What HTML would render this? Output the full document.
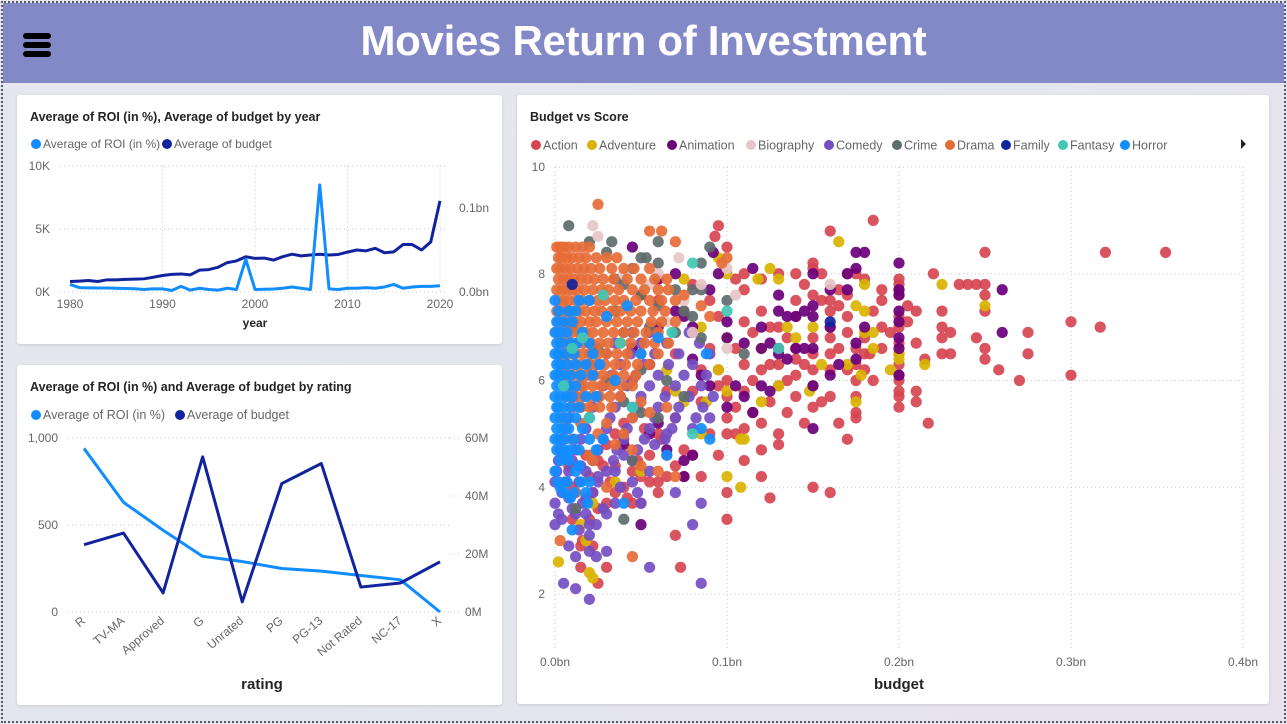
<!DOCTYPE html>
<html><head><meta charset="utf-8">
<style>
*{margin:0;padding:0;box-sizing:border-box}
body{width:1287px;height:724px;overflow:hidden;background:linear-gradient(135deg,#e6e6ee,#e4e6ee 50%,#e8e2ec);font-family:"Liberation Sans",sans-serif;position:relative}
#frame{position:absolute;left:1px;top:1px;width:1285px;height:722px;border:2px dotted #555a66}
#header{position:absolute;left:3px;top:3px;width:1281px;height:80px;background:#8289c6}
#title{position:absolute;left:0;top:17px;width:1287px;text-align:center;color:#fff;font-weight:bold;font-size:42px;letter-spacing:-0.3px}
.bar{position:absolute;left:23px;width:28px;height:6px;background:#000;border-radius:3px}
.panel{position:absolute;background:#fff;border-radius:3px;box-shadow:0 1px 3px rgba(0,0,0,.12)}
svg{position:absolute;left:0;top:0}
</style></head><body>
<div id="frame"></div>
<div id="header"></div>
<div id="title">Movies Return of Investment</div>
<div>
<div class="bar" style="top:33px"></div><div class="bar" style="top:42px"></div><div class="bar" style="top:51px"></div></div>
<div class="panel" style="left:17px;top:95px;width:485px;height:249px"></div>
<div class="panel" style="left:17px;top:365px;width:485px;height:340px"></div>
<div class="panel" style="left:517px;top:95px;width:752px;height:609px"></div>
<svg id="chart" width="1287" height="724" font-family="Liberation Sans, sans-serif"></svg>
<script>
// ---------- Year chart data ----------
const years=[1980,1981,1982,1983,1984,1985,1986,1987,1988,1989,1990,1991,1992,1993,1994,1995,1996,1997,1998,1999,2000,2001,2002,2003,2004,2005,2006,2007,2008,2009,2010,2011,2012,2013,2014,2015,2016,2017,2018,2019,2020];
const roiByYear=[600,350,330,320,320,300,280,260,200,260,250,120,450,150,300,200,150,300,200,2600,200,220,240,300,400,300,200,8500,250,200,300,300,350,300,400,600,300,400,450,450,500];
const budgetByYearM=[12.5,13,13.7,12.5,14.5,14.5,15,15.3,15.7,17.6,19.6,21,21.5,20.4,26,26.7,29.4,35,37,42,40,40.4,38,42,45,43,44,45,44,44.7,47.5,50,49,52,46.7,47.8,56.5,56.5,50,59.6,108.6];
const yearTicks=[1980,1990,2000,2010,2020];
const roiYearTicks=[0,5000,10000];
const roiYearTickLabels=["0K","5K","10K"];
const budYearTicks=[0,100];
const budYearTickLabels=["0.0bn","0.1bn"];
// ---------- Rating chart data ----------
const ratings=["R","TV-MA","Approved","G","Unrated","PG","PG-13","Not Rated","NC-17","X"];
const roiByRating=[940,630,470,320,290,250,235,210,185,0];
const budgetByRatingM=[23.2,27.2,6.6,53.5,3.5,44.3,51.2,8.6,10,17.3];
const roiRatingTicks=[0,500,1000];
const roiRatingTickLabels=["0","500","1,000"];
const budRatingTicks=[0,20,40,60];
const budRatingTickLabels=["0M","20M","40M","60M"];
// ---------- Scatter data (budget in M, score) ----------
const genres=["Action","Adventure","Animation","Biography","Comedy","Crime","Drama","Family","Fantasy","Horror"];
const genreColors=["#D64550","#D9B300","#6B007B","#E6C4C8","#744EC2","#5F6B6D","#E66C37","#12239E","#41C8B4","#118DFF"];
const scatterXTicks=[0,100,200,300,400];
const scatterXTickLabels=["0.0bn","0.1bn","0.2bn","0.3bn","0.4bn"];
const scatterYTicks=[2,4,6,8,10];
const actionPts=[[185,9.0],[160,8.8],[95,8.9],[93,8.7],[100,8.5],[250,8.4],[320,8.4],[355,8.4],[150,8.2],[150,8.1],[175,8.0],[200,7.9],[220,8.0],[235,7.8],[245,7.8],[250,7.8],[250,7.6],[240,7.8],[200,7.8],[180,7.9],[170,8.0],[140,8.0],[130,8.0],[120,7.9],[110,7.7],[110,8.0],[105,7.9],[155,7.5],[160,7.5],[165,7.7],[190,7.7],[200,7.7],[210,7.3],[225,7.3],[250,7.3],[205,7.4],[225,7.0],[230,6.9],[245,6.8],[225,6.8],[275,6.9],[300,7.1],[317,7.0],[210,6.7],[250,6.6],[275,6.5],[230,6.5],[225,6.5],[250,6.4],[258,6.2],[270,6.0],[300,6.1],[215,6.4],[200,6.7],[200,6.5],[200,6.3],[200,6.1],[200,6.0],[200,5.8],[200,5.7],[200,5.5],[200,7.0],[200,7.2],[195,6.9],[190,7.0],[180,6.8],[180,6.5],[180,6.2],[185,6.0],[175,6.6],[175,6.0],[175,5.7],[175,5.4],[175,5.3],[170,6.9],[170,6.2],[170,4.9],[165,6.6],[165,5.2],[160,7.0],[160,6.8],[160,6.5],[160,6.2],[160,5.7],[155,5.6],[150,6.8],[150,6.5],[150,6.2],[150,5.9],[150,5.5],[145,5.2],[140,6.6],[140,6.1],[140,5.7],[135,6.8],[135,5.4],[130,5.9],[130,5.0],[125,6.3],[125,5.6],[120,6.2],[120,5.2],[120,4.7],[115,6.9],[115,6.0],[115,5.4],[110,6.3],[110,5.8],[110,5.1],[105,6.6],[105,5.5],[100,6.0],[100,5.7],[100,5.3],[100,5.0],[105,5.0],[95,6.2],[95,5.9],[95,4.6],[90,6.6],[90,5.0],[85,5.6],[85,4.2],[80,5.8],[80,4.6],[75,4.7],[75,4.2],[70,4.4],[65,4.6],[60,3.9],[55,4.1],[50,4.2],[45,3.7],[50,3.7],[60,4.1],[100,3.9],[100,3.4],[120,4.2],[125,3.8],[110,4.5],[130,4.8],[150,4.0],[160,3.9],[210,5.8],[210,5.6],[217,5.2],[30,3.7],[35,3.9],[16,3.0],[15,2.9],[15,2.5],[30,2.5],[22,2.9],[25,2.2],[70,3.1],[73,2.5],[140,6.4],[145,6.3],[130,7.0],[120,7.3],[110,7.1],[150,7.6],[140,7.5],[160,7.3],[170,7.2],[185,7.3],[190,6.6],[175,6.3],[125,7.0],[130,6.3],[135,6.0],[140,7.2],[165,7.4],[183,6.5],[200,7.6],[190,7.5],[145,7.8],[155,8.0],[170,7.6],[205,7.1],[50,7.6],[60,7.5],[70,6.5],[80,6.9],[90,7.5],[75,7.3],[55,6.3],[45,6.0],[65,5.8],[85,6.2],[95,7.2],[80,7.8],[60,5.0],[40,5.2],[25,4.5],[35,4.4],[45,4.3],[30,4.8],[55,4.6],[40,4.0],[20,4.2],[65,4.2],[10,3.4],[20,3.4],[25,3.6],[10,4.0],[18,4.6],[28,4.4],[38,4.8],[48,4.5],[32,4.1],[42,3.8],[8,4.4],[22,3.9],[52,5.1],[62,4.9],[70,5.3],[35,5.0]];
const adventurePts=[[165,8.6],[100,8.0],[125,8.1],[130,7.9],[118,7.9],[75,7.9],[180,7.8],[225,7.8],[250,7.4],[180,7.3],[175,7.4],[180,6.9],[185,6.9],[185,6.6],[200,6.5],[200,6.4],[195,6.2],[215,6.3],[155,6.3],[170,6.3],[178,6.1],[140,6.8],[135,7.0],[148,5.8],[175,5.6],[120,5.6],[130,5.9],[100,5.8],[90,6.5],[95,6.2],[88,5.6],[85,5.0],[110,4.9],[108,4.9],[100,4.2],[108,4.0],[50,4.3],[35,4.1],[22,3.7],[15,3.3],[18,3.0],[20,2.4],[22,2.3],[2,2.6],[100,6.8],[95,8.3],[85,7.0],[70,5.8],[60,7.9],[120,6.6],[150,7.0],[65,6.2],[75,5.6]];
const animationPts=[[45,8.5],[92,8.4],[175,8.4],[180,8.4],[200,8.2],[170,8.0],[115,8.1],[95,8.0],[90,7.7],[70,8.0],[60,7.9],[150,8.0],[150,7.4],[160,7.7],[170,7.7],[175,8.1],[200,7.6],[200,7.7],[260,7.7],[130,7.6],[130,7.3],[135,7.2],[140,7.2],[145,7.3],[150,7.2],[140,6.6],[130,6.6],[120,6.6],[125,6.7],[120,7.0],[110,6.7],[100,7.1],[100,6.8],[80,7.0],[70,7.3],[60,7.0],[75,7.2],[80,6.4],[85,6.1],[90,5.9],[100,5.5],[105,5.9],[110,5.7],[115,5.4],[120,5.9],[125,5.8],[130,6.5],[135,6.4],[145,6.6],[150,6.6],[150,5.9],[150,5.1],[160,7.0],[160,6.1],[165,6.3],[175,6.7],[175,6.4],[180,7.0],[200,7.3],[200,7.1],[200,6.8],[200,6.6],[200,6.1],[260,6.9],[60,5.2],[55,5.0],[65,4.7],[75,4.5],[75,4.2],[80,4.6],[50,3.3],[40,4.8],[45,6.6],[55,6.3]];
const biographyPts=[[22,8.9],[25,8.7],[72,8.3],[100,8.1],[105,7.6],[85,7.8],[60,8.0],[75,7.5],[65,7.1],[55,7.8],[15,8.0],[10,6.2],[160,7.8],[100,6.6],[40,8.0],[30,7.6],[80,6.9],[5,7.4]];
const comedyPts=[[45,6.9],[55,6.9],[78,6.9],[35,6.7],[50,6.7],[65,6.7],[84,6.7],[30,6.5],[44,6.5],[58,6.5],[72,6.5],[90,6.5],[25,6.3],[38,6.3],[52,6.3],[66,6.3],[80,6.3],[20,6.1],[33,6.1],[47,6.1],[60,6.1],[75,6.1],[88,6.1],[15,5.9],[28,5.9],[42,5.9],[55,5.9],[70,5.9],[85,5.9],[12,5.7],[25,5.7],[38,5.7],[50,5.7],[64,5.7],[78,5.7],[92,5.7],[10,5.5],[22,5.5],[35,5.5],[48,5.5],[60,5.5],[72,5.5],[86,5.5],[8,5.3],[20,5.3],[32,5.3],[45,5.3],[58,5.3],[70,5.3],[82,5.3],[90,5.3],[6,5.1],[18,5.1],[30,5.1],[42,5.1],[55,5.1],[68,5.1],[80,5.1],[4,4.9],[15,4.9],[28,4.9],[40,4.9],[52,4.9],[64,4.9],[3,4.7],[12,4.7],[25,4.7],[36,4.7],[48,4.7],[2,4.5],[10,4.5],[22,4.5],[34,4.5],[45,4.5],[1,4.3],[8,4.3],[18,4.3],[30,4.3],[55,4.3],[0,4.1],[6,4.1],[14,4.1],[25,4.1],[45,4.1],[4,3.9],[12,3.9],[22,3.9],[70,3.9],[16,3.7],[35,3.7],[50,3.7],[85,3.7],[2,3.5],[12,3.5],[18,3.5],[0,3.3],[20,3.3],[80,3.3],[12,2.7],[8,2.9],[20,2.8],[24,2.7],[30,2.8],[5,2.2],[12,2.1],[20,1.9],[55,2.5],[85,2.2],[20,3.1],[5,4.6],[15,4.4],[25,4.2],[35,4.3],[8,3.8],[18,3.8],[28,3.6],[38,4.0],[48,3.9],[0,3.7],[10,3.6],[4,3.4],[14,3.2],[24,3.3],[30,3.5],[40,4.6],[58,4.8],[65,5.0]];
const crimePts=[[8,8.9],[20,8.6],[33,8.6],[60,8.6],[90,8.5],[85,8.2],[30,8.4],[53,8.3],[50,8.3],[60,8.2],[45,8.1],[40,7.8],[70,7.7],[80,7.7],[85,7.7],[100,7.5],[75,7.3],[80,7.2],[60,7.4],[50,7.6],[35,7.3],[25,6.6],[40,6.9],[55,7.0],[70,6.9],[85,6.8],[110,6.5],[30,6.0],[50,6.2],[65,6.0],[75,5.7],[50,5.4],[60,5.3],[40,5.6],[45,4.5],[40,3.4],[12,3.6],[20,6.3],[10,7.0],[15,5.5],[35,7.9]];
const dramaPts=[[1,8.5],[3,8.5],[5,8.5],[8,8.5],[12,8.5],[16,8.5],[20,8.5],[2,8.3],[4,8.3],[7,8.3],[10,8.3],[14,8.3],[18,8.3],[24,8.3],[30,8.3],[36,8.3],[1,8.1],[3,8.1],[6,8.1],[9,8.1],[13,8.1],[17,8.1],[21,8.1],[26,8.1],[33,8.1],[40,8.1],[46,8.1],[55,8.1],[2,7.9],[5,7.9],[8,7.9],[11,7.9],[15,7.9],[19,7.9],[23,7.9],[28,7.9],[34,7.9],[42,7.9],[50,7.9],[58,7.9],[1,7.7],[4,7.7],[7,7.7],[10,7.7],[13,7.7],[17,7.7],[22,7.7],[27,7.7],[31,7.7],[37,7.7],[45,7.7],[52,7.7],[60,7.7],[66,7.7],[2,7.5],[5,7.5],[8,7.5],[12,7.5],[16,7.5],[20,7.5],[25,7.5],[29,7.5],[35,7.5],[40,7.5],[47,7.5],[55,7.5],[62,7.5],[70,7.5],[1,7.3],[3,7.3],[6,7.3],[9,7.3],[14,7.3],[18,7.3],[23,7.3],[27,7.3],[33,7.3],[38,7.3],[44,7.3],[50,7.3],[57,7.3],[64,7.3],[2,7.1],[5,7.1],[8,7.1],[11,7.1],[15,7.1],[20,7.1],[24,7.1],[30,7.1],[36,7.1],[42,7.1],[48,7.1],[56,7.1],[62,7.1],[70,7.1],[1,6.9],[4,6.9],[7,6.9],[10,6.9],[14,6.9],[18,6.9],[22,6.9],[28,6.9],[34,6.9],[40,6.9],[46,6.9],[53,6.9],[60,6.9],[3,6.7],[6,6.7],[9,6.7],[13,6.7],[17,6.7],[21,6.7],[26,6.7],[31,6.7],[38,6.7],[44,6.7],[52,6.7],[58,6.7],[66,6.7],[2,6.5],[5,6.5],[8,6.5],[12,6.5],[16,6.5],[20,6.5],[25,6.5],[30,6.5],[36,6.5],[42,6.5],[50,6.5],[60,6.5],[4,6.3],[7,6.3],[11,6.3],[15,6.3],[19,6.3],[24,6.3],[29,6.3],[35,6.3],[41,6.3],[48,6.3],[55,6.3],[3,6.1],[6,6.1],[10,6.1],[14,6.1],[18,6.1],[23,6.1],[28,6.1],[34,6.1],[40,6.1],[47,6.1],[5,5.9],[9,5.9],[13,5.9],[17,5.9],[22,5.9],[27,5.9],[33,5.9],[39,5.9],[45,5.9],[8,5.7],[12,5.7],[16,5.7],[21,5.7],[26,5.7],[32,5.7],[38,5.7],[10,5.5],[15,5.5],[20,5.5],[26,5.5],[33,5.5],[25,9.3],[55,8.8],[62,8.8],[70,8.6],[97,8.2],[100,8.3],[45,4.7],[30,5.2],[40,5.0],[22,4.5],[50,4.4],[60,4.3],[70,4.2],[12,3.9],[3,3.0],[45,2.7],[30,4.0],[65,7.9],[75,7.6],[85,7.4],[90,7.2],[5,5.3],[15,5.2],[25,5.0],[35,4.8],[20,4.6],[10,4.9],[50,5.6],[55,5.4],[65,5.5],[45,5.3]];
const familyPts=[[10,7.8],[160,7.1]];
const fantasyPts=[[80,8.2],[100,7.3],[68,6.9],[28,7.6],[16,6.8],[38,6.7],[10,6.6],[20,5.3],[45,5.5],[80,5.0],[5,5.9],[130,6.6]];
const horrorPts=[[0,7.5],[14,7.5],[20,7.5],[2,7.3],[8,7.3],[12,7.3],[1,7.1],[5,7.1],[10,7.1],[0,6.9],[3,6.9],[7,6.9],[16,6.9],[1,6.7],[4,6.7],[9,6.7],[13,6.7],[20,6.7],[0,6.5],[2,6.5],[6,6.5],[11,6.5],[22,6.5],[1,6.3],[3,6.3],[7,6.3],[12,6.3],[18,6.3],[26,6.3],[0,6.1],[2,6.1],[5,6.1],[9,6.1],[15,6.1],[22,6.1],[1,5.9],[4,5.9],[8,5.9],[12,5.9],[0,5.7],[3,5.7],[6,5.7],[10,5.7],[18,5.7],[24,5.7],[1,5.5],[2,5.5],[5,5.5],[9,5.5],[14,5.5],[0,5.3],[3,5.3],[7,5.3],[12,5.3],[20,5.3],[1,5.1],[4,5.1],[8,5.1],[16,5.1],[0,4.9],[2,4.9],[6,4.9],[11,4.9],[20,4.9],[28,4.9],[1,4.7],[5,4.7],[9,4.7],[14,4.7],[24,4.7],[3,4.5],[8,4.5],[0,4.3],[12,4.3],[2,4.1],[7,4.1],[15,4.1],[20,4.1],[5,3.9],[11,3.9],[18,3.9],[19,3.7],[40,3.7],[10,3.2],[50,6.5],[60,6.8],[88,6.5],[85,5.1],[90,4.9],[65,4.6],[45,5.5],[42,7.4],[30,7.2],[35,6.0],[3,4.0],[9,3.8],[14,4.4],[6,4.6]];
const genrePts=[actionPts,adventurePts,animationPts,biographyPts,comedyPts,crimePts,dramaPts,familyPts,fantasyPts,horrorPts];
const drawOrder=[0,1,2,4,5,3,6,9,8,7];

const NS="http://www.w3.org/2000/svg";
const svg=document.getElementById('chart');
function mk(tag,attrs,parent,txt){const e=document.createElementNS(NS,tag);for(const k in attrs)e.setAttribute(k,attrs[k]);if(txt!==undefined)e.textContent=txt;(parent||svg).appendChild(e);return e;}
const GRID={stroke:"#c8c8c8","stroke-width":1,"stroke-dasharray":"1,3"};
const TICK={fill:"#666","font-size":12};

// ===== Year chart =====
const g1=mk('g',{});


const x1=y=>70+(y-1980)/(2020-1980)*370;
const yl1=v=>292-v/10000*126;
const yr1=v=>292-v/150*126;
let t=mk('text',{x:30,y:121,"font-size":12.5,"font-weight":"bold",fill:"#252423"},g1,"Average of ROI (in %), Average of budget by year");

let c=mk('circle',{cx:36,cy:144,r:5,fill:"#118DFF"},g1);
t=mk('text',{x:43,y:148,"font-size":12,fill:"#666"},g1,"Average of ROI (in %)");

c=mk('circle',{cx:167,cy:144,r:5,fill:"#12239E"},g1);
t=mk('text',{x:174,y:148,"font-size":12,fill:"#666"},g1,"Average of budget");

roiYearTicks.forEach((v,i)=>{
  const l=mk('line',Object.assign({x1:60,x2:446,y1:yl1(v),y2:yl1(v)},GRID),g1);
  
  const tx=mk('text',Object.assign({x:50,y:yl1(v)+4,"text-anchor":"end"},TICK),g1,roiYearTickLabels[i]);
  
});
budYearTicks.forEach((v,i)=>{
  const tx=mk('text',Object.assign({x:459,y:yr1(v)+4},TICK),g1,budYearTickLabels[i]);
  
});
yearTicks.forEach(v=>{
  if(v>1980){const l=mk('line',Object.assign({x1:x1(v),x2:x1(v),y1:166,y2:292},GRID),g1);
  }
  const tx=mk('text',Object.assign({x:x1(v),y:308,"text-anchor":"middle"},TICK),g1,String(v));
  
});
t=mk('text',{x:255,y:327,"font-size":12,"font-weight":"bold",fill:"#252423","text-anchor":"middle"},g1,"year");

let p=mk('polyline',{points:years.map((y,i)=>x1(y)+","+yr1(budgetByYearM[i])).join(" "),fill:"none",stroke:"#12239E","stroke-width":3,"stroke-linejoin":"round"},g1);

p=mk('polyline',{points:years.map((y,i)=>x1(y)+","+yl1(roiByYear[i])).join(" "),fill:"none",stroke:"#118DFF","stroke-width":3,"stroke-linejoin":"round"},g1);


// ===== Rating chart =====
const g2=mk('g',{});


const x2=i=>84+i*(440-84)/(ratings.length-1);
const yl2=v=>612-v/1000*174;
const yr2=v=>612-v/60*174;
t=mk('text',{x:30,y:391,"font-size":12.5,"font-weight":"bold",fill:"#252423"},g2,"Average of ROI (in %) and Average of budget by rating");

mk('circle',{cx:36,cy:415,r:5,fill:"#118DFF"},g2);
t=mk('text',{x:43,y:419,"font-size":12.5,fill:"#666"},g2,"Average of ROI (in %)");

mk('circle',{cx:180,cy:415,r:5,fill:"#12239E"},g2);
t=mk('text',{x:187,y:419,"font-size":12.5,fill:"#666"},g2,"Average of budget");

roiRatingTicks.forEach((v,i)=>{
  const l=mk('line',Object.assign({x1:68,x2:450,y1:yl2(v),y2:yl2(v)},GRID),g2);
  
  const tx=mk('text',Object.assign({x:58,y:yl2(v)+4,"text-anchor":"end"},TICK),g2,roiRatingTickLabels[i]);
  
});
budRatingTicks.forEach((v,i)=>{
  const l=mk('line',Object.assign({x1:450,x2:460,y1:yr2(v),y2:yr2(v)},GRID),g2);
  const tx=mk('text',Object.assign({x:465,y:yr2(v)+4},TICK),g2,budRatingTickLabels[i]);
  
});
ratings.forEach((r,i)=>{
  const x=x2(i)+2,y=622;
  const tx=mk('text',Object.assign({x:x,y:y,"text-anchor":"end",transform:`rotate(-40 ${x} ${y})`},TICK),g2,r);
  
});
t=mk('text',{x:262,y:689,"font-size":15,"font-weight":"bold",fill:"#252423","text-anchor":"middle"},g2,"rating");

p=mk('polyline',{points:ratings.map((r,i)=>x2(i)+","+yl2(roiByRating[i])).join(" "),fill:"none",stroke:"#118DFF","stroke-width":3,"stroke-linejoin":"round"},g2);

p=mk('polyline',{points:ratings.map((r,i)=>x2(i)+","+yr2(budgetByRatingM[i])).join(" "),fill:"none",stroke:"#12239E","stroke-width":3,"stroke-linejoin":"round"},g2);


// ===== Scatter =====
const g3=mk('g',{});


const x3=v=>555+v/400*688;
const y3=v=>167+(10-v)*53.375;
t=mk('text',{x:530,y:121,"font-size":12.5,"font-weight":"bold",fill:"#252423"},g3,"Budget vs Score");

const legX=[536,592,672,751,829,897,950,1006,1063,1125];
genres.forEach((gn,i)=>{
  mk('circle',{cx:legX[i],cy:145,r:5,fill:genreColors[i]},g3);
  const tx=mk('text',{x:legX[i]+7,y:149.5,"font-size":12.5,fill:"#666"},g3,gn);
  
});
t=mk('path',{d:"M1241,139 L1246,144 L1241,149 Z",fill:"#252423"},g3);

scatterYTicks.forEach(v=>{
  const l=mk('line',Object.assign({x1:555,x2:1243,y1:y3(v),y2:y3(v)},GRID),g3);
  
  const tx=mk('text',Object.assign({x:545,y:y3(v)+4,"text-anchor":"end"},TICK),g3,String(v));
  
});
scatterXTicks.forEach((v,i)=>{
  const l=mk('line',Object.assign({x1:x3(v),x2:x3(v),y1:167,y2:650},GRID),g3);
  
  const tx=mk('text',Object.assign({x:x3(v),y:666,"text-anchor":"middle"},TICK),g3,scatterXTickLabels[i]);
  
});
t=mk('text',{x:899,y:689,"font-size":15,"font-weight":"bold",fill:"#252423","text-anchor":"middle"},g3,"budget");

drawOrder.forEach(gi=>{
  genrePts[gi].forEach(pt=>{
    const d=mk('circle',{cx:x3(pt[0]),cy:y3(pt[1]),r:5.6,fill:genreColors[gi],"fill-opacity":0.92},g3);
    
    
  });
});
</script>
</body></html>
